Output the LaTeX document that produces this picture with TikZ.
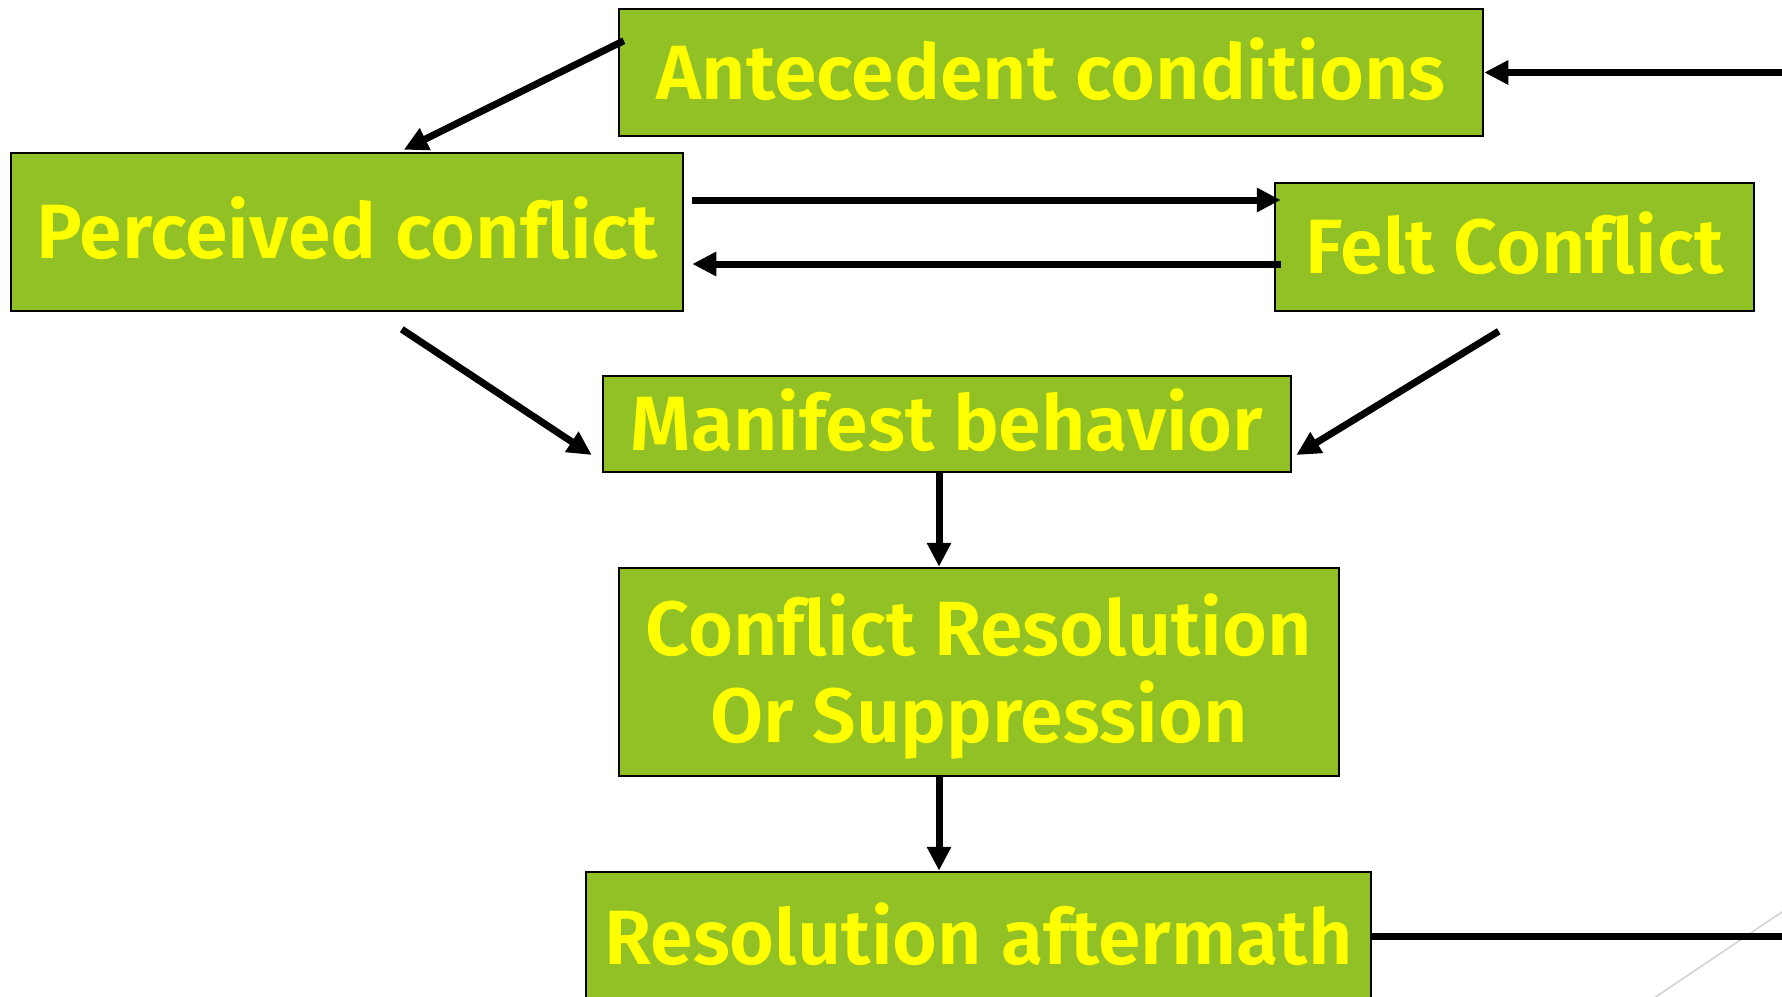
\documentclass[tikz,border=0pt]{standalone}
\usepackage{fontspec}
\setmainfont{Fira Sans}[BoldFont={* SemiBold},Ligatures=NoCommon]
\usetikzlibrary{arrows.meta,calc}
\definecolor{boxgreen}{RGB}{146,193,37}
\definecolor{txtyellow}{RGB}{255,255,0}
\begin{document}
\begin{tikzpicture}[x=1pt,y=-1pt,
  box/.style={draw=black,line width=2.5pt,fill=boxgreen,text=txtyellow,
    font=\fontsize{77}{87}\selectfont\bfseries,inner sep=0pt,align=center,
    text height=53pt,text depth=0pt},
  conn/.style={line width=7pt,-{Triangle[length=24pt,width=23pt]}},
  plainline/.style={line width=7pt}]
\useasboundingbox (0,0) rectangle (1782,996);
\draw[black!18,line width=1.5pt] (1640,1007.4) -- (1800,899.9);
\node[box,minimum width=864pt,minimum height=127pt] (ante) at (1051,72.5) {Antecedent conditions};
\node[box,minimum width=672pt,minimum height=158pt] (perc) at (347,232) {Perceived conf\kern0pt lict};
\node[box,minimum width=479pt,minimum height=128pt] (felt) at (1514.5,247) {Felt Conf\kern0pt lict};
\node[box,minimum width=688pt,minimum height=96pt] (manif) at (947,424) {Manifest behavior};
\node[box,minimum width=720pt,minimum height=208pt,text height=140pt] (confres) at (979,672) {Conf\kern0pt lict Resolution\\Or Suppression};
\node[box,minimum width=785pt,minimum height=132pt] (after) at (978.5,938) {Resolution aftermath};
\coordinate (inR) at (1790,0);
\coordinate (outR) at (1790,0);
\coordinate (afterE) at ($(after.east)+(0,-2)$);
\draw[conn] (ante.east -| inR) -- (ante.east);
\draw[conn] ($(ante.north west)+(6,33)$) -- ($(perc.north west)+(394,-2)$);
\draw[conn] ($(perc.east)+(8,-32)$) -- ($(felt.west)+(7,-47)$);
\draw[conn] ($(felt.west)+(7,17)$) -- ($(perc.east)+(8,32)$);
\draw[conn] ($(perc.south west)+(392,17)$) -- ($(manif.west)+(-10,31)$);
\draw[conn] ($(felt.south west)+(225,19)$) -- ($(manif.east)+(4,31)$);
\draw[conn] ($(manif.south)+(-8,0)$) -- ($(confres.north)+(-40,0)$);
\draw[conn] ($(confres.south)+(-40,0)$) -- ($(after.north)+(-39.5,0)$);
\draw[plainline] (afterE) -- (afterE -| outR);
\end{tikzpicture}
\end{document}
